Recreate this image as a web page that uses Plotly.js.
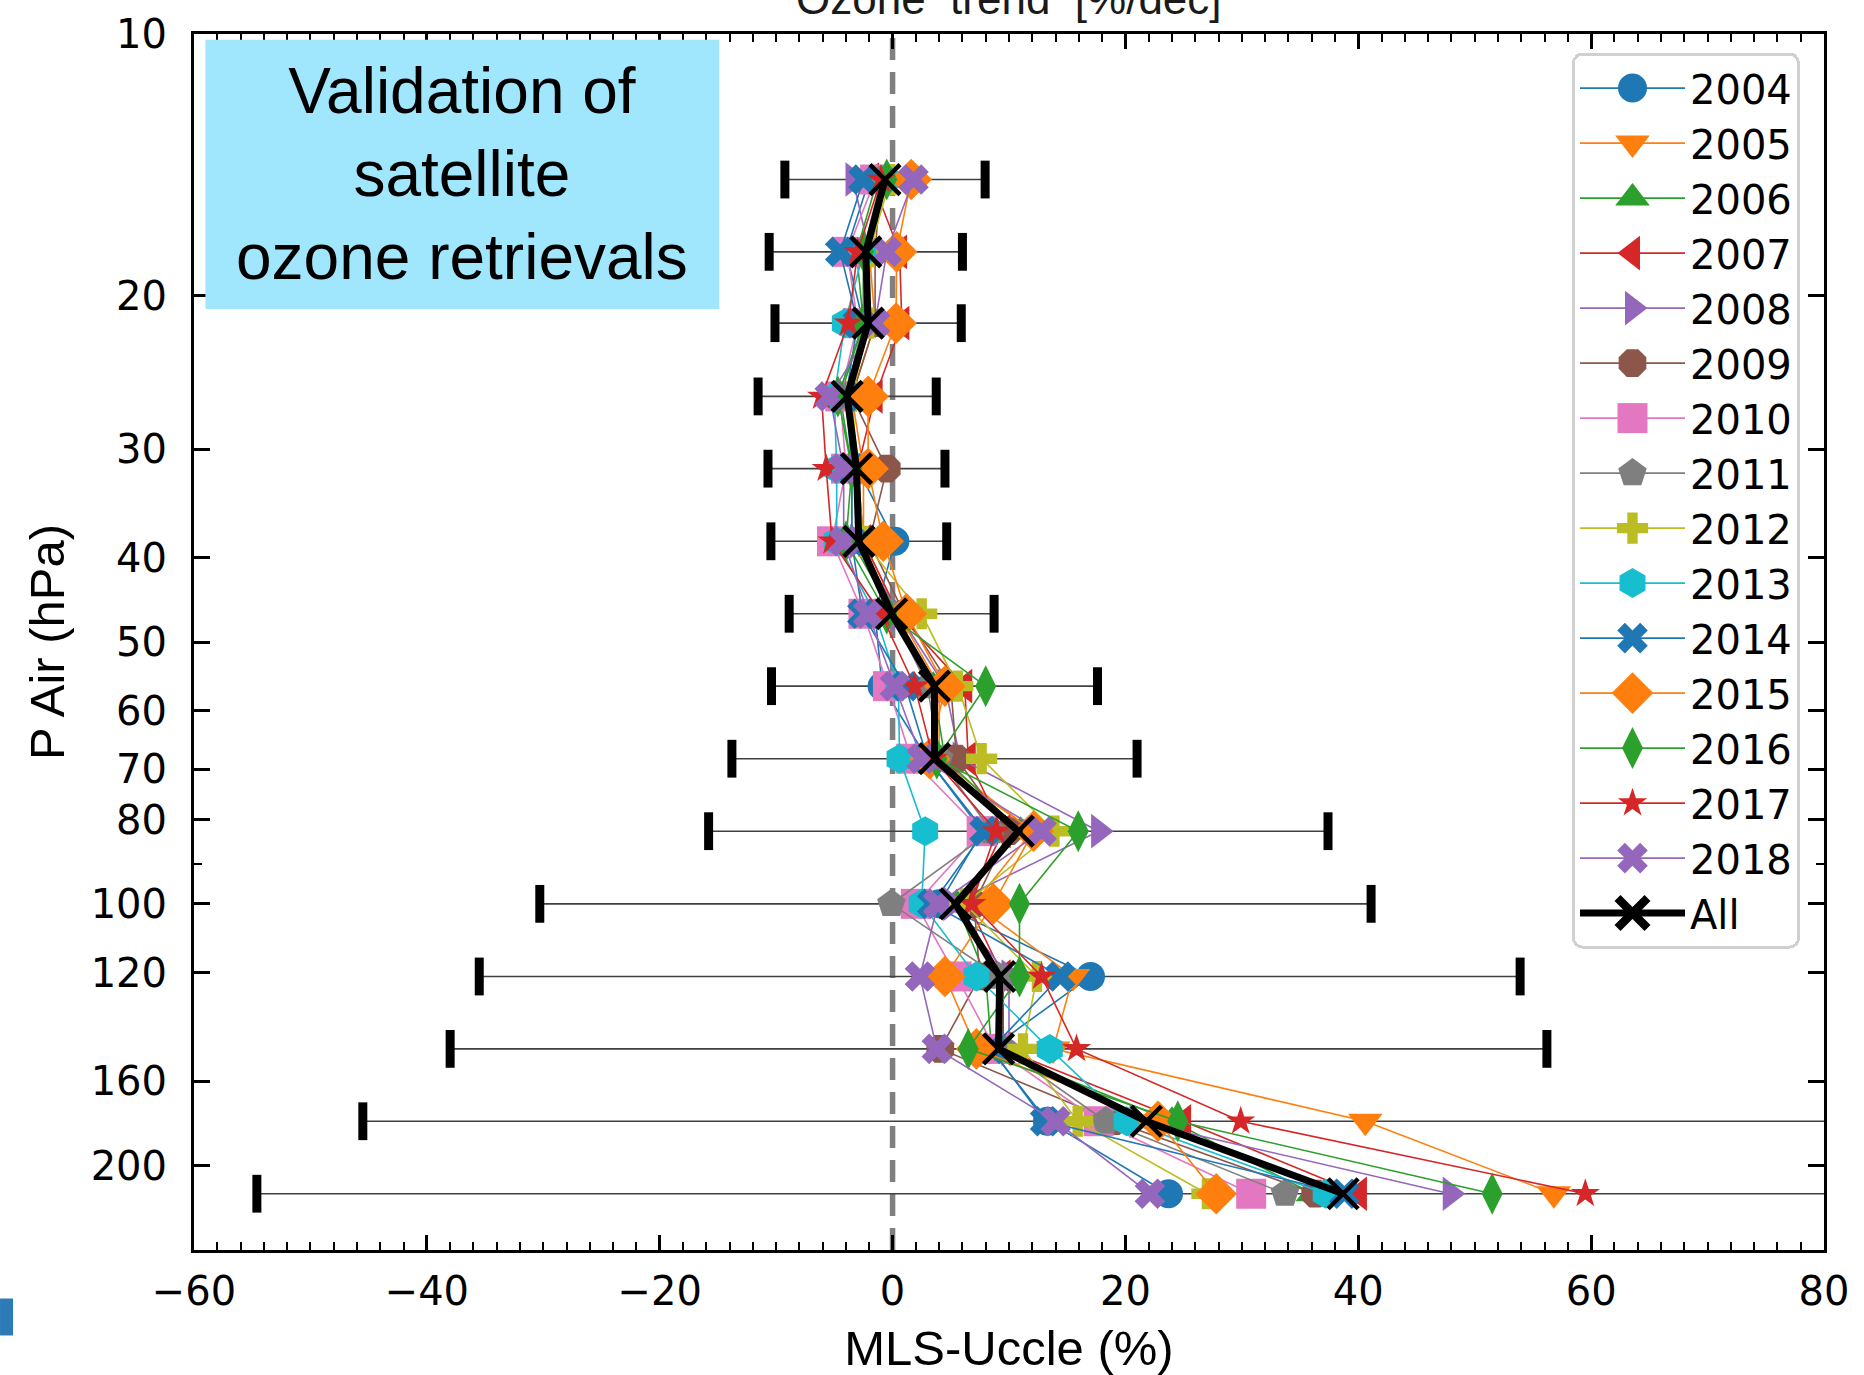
<!DOCTYPE html>
<html>
<head>
<meta charset="utf-8">
<script src="https://cdn.plot.ly/plotly-3.0.1.min.js"></script>
<style>
html, body { margin: 0; padding: 0; background: #ffffff; }
#chart { width: 1864px; height: 1375px; }
</style>
</head>
<body>
<div id="chart"></div>
<script>
// ---------------- DATA ----------------
const pressureLevels = [14.7, 17.8, 21.5, 26.1, 31.6, 38.3, 46.4, 56.2, 68.1, 82.5, 100, 121.2, 146.8, 177.8, 215.4];
const years = ['2004', '2005', '2006', '2007', '2008', '2009', '2010', '2011', '2012', '2013', '2014', '2015', '2016', '2017', '2018'];

const y2004 = [-2.0, -4.0, -2.5, -4.0, -3.0, 0.2, -1.5, -0.9, 3.0, 7.7, 4.0, 17.0, 8.4, 13.3, 23.7];
const y2005 = [-1.0, -2.0, -1.5, -3.5, -2.5, -2.5, 0.5, 4.0, 4.0, 12.0, 7.0, 15.5, 13.8, 40.6, 56.8];
const y2006 = [-1.3, -3.1, -2.5, -4.5, -3.5, -3.5, 0.0, 3.5, 4.5, 11.0, 5.5, 8.0, 8.5, 24.0, 36.1];
const y2007 = [-1.8, 0.6, 0.8, -1.5, -3.0, -2.5, 0.5, 6.2, 6.5, 9.5, 6.5, 9.5, 9.5, 25.0, 40.1];
const y2008 = [-3.4, -2.0, -2.0, -4.0, -3.0, -3.0, 0.5, 4.5, 5.8, 17.7, 5.0, 10.0, 10.0, 21.0, 47.9];
const y2009 = [-1.0, -1.5, -1.5, -3.5, -0.5, -2.0, 1.0, 5.0, 5.5, 10.0, 7.0, 7.5, 4.1, 19.0, 36.3];
const y2010 = [-1.5, -3.9, -3.0, -4.5, -4.0, -5.2, -2.5, -0.4, 1.6, 7.65, 2.0, 5.5, 8.8, 17.7, 30.8];
const y2011 = [-1.0, -2.5, -2.5, -4.0, -3.0, -3.0, 0.0, 3.0, 4.0, 8.5, -0.1, 9.1, 9.5, 18.3, 33.7];
const y2012 = [-0.2, -2.0, -2.0, -3.5, -3.0, -2.5, 2.5, 5.6, 7.65, 13.9, 6.2, 12.4, 11.2, 15.9, 27.0];
const y2013 = [-0.5, -2.5, -4.1, -5.0, -4.8, -4.8, -1.5, 0.5, 0.6, 2.8, 2.5, 7.2, 13.5, 20.1, 37.2];
const y2014 = [-2.5, -4.5, -3.0, -4.0, -3.5, -3.5, -2.6, 1.1, 3.0, 7.9, 3.4, 14.4, 8.5, 13.1, 38.8];
const y2015 = [1.6, 0.35, 0.3, -2.1, -2.1, -0.8, 1.2, 4.5, 3.2, 12.1, 8.65, 4.5, 7.2, 22.8, 27.8];
const y2016 = [-0.5, -2.5, -2.5, -4.7, -3.5, -4.0, -0.5, 8.0, 3.8, 15.95, 10.9, 10.9, 6.5, 24.5, 51.5];
const y2017 = [-1.0, -3.0, -3.8, -6.1, -5.7, -5.2, -1.0, 1.9, 3.5, 8.9, 6.8, 12.8, 15.8, 29.9, 59.5];
const y2018 = [1.8, -0.5, -1.5, -5.4, -4.2, -4.2, -2.1, 0.2, 2.5, 12.8, 3.9, 2.35, 3.8, 14.0, 22.1];

const allMean = [-0.65, -2.3, -2.1, -3.9, -3.1, -2.9, -0.08, 3.6, 3.6, 10.8, 5.4, 9.2, 9.1, 21.8, 38.7];
const allErr  = [8.6, 8.3, 8.0, 7.65, 7.6, 7.55, 8.8, 14.0, 17.4, 26.6, 35.7, 44.7, 47.1, 67.3, 93.3];

const xTickVals = [-60, -40, -20, 0, 20, 40, 60, 80];
const yTickVals = [10, 20, 30, 40, 50, 60, 70, 80, 100, 120, 160, 200];
const yMinorTickVals = [90];

// ---------------- STYLES ----------------
const yearSeries = [y2004, y2005, y2006, y2007, y2008, y2009, y2010, y2011, y2012, y2013, y2014, y2015, y2016, y2017, y2018];
const yearColors = ['#1f77b4', '#ff7f0e', '#2ca02c', '#d62728', '#9467bd', '#8c564b', '#e377c2', '#7f7f7f',
                    '#bcbd22', '#17becf', '#1f77b4', '#ff7f0e', '#2ca02c', '#d62728', '#9467bd'];
const yearSymbols = ['circle', 'triangle-down', 'triangle-up', 'triangle-left', 'triangle-right', 'octagon', 'square',
                     'pentagon', 'cross', 'hexagon', 'x', 'diamond', 'diamond-tall', 'star', 'x'];
const yearSizes = [29, 30, 30, 30, 30, 30, 30, 30, 26, 30, 27, 32, 30, 22, 27];
const allMarkerSize = 30;

const tickFont = { family: 'DejaVu Sans, sans-serif', size: 40, color: '#000000' };
const labelFont = { family: 'Liberation Sans, Arial, sans-serif', size: 49, color: '#000000' };

// ---------------- TRACES ----------------
const traces = [];

// thin error bar lines of "All"
traces.push({
  type: 'scatter', mode: 'markers',
  x: allMean, y: pressureLevels,
  marker: { size: 1, color: 'rgba(0,0,0,0)' },
  error_x: { type: 'data', array: allErr, symmetric: true, color: '#404040', thickness: 1.6, width: 0 },
  showlegend: false, hoverinfo: 'skip'
});

// thick caps at error bar ends
const capX = allMean.map((m, i) => m - allErr[i]).concat(allMean.map((m, i) => m + allErr[i]));
const capY = pressureLevels.concat(pressureLevels);
traces.push({
  type: 'scatter', mode: 'markers',
  x: capX, y: capY,
  marker: { symbol: 'line-ns', size: 27, color: '#000000', line: { width: 9, color: '#000000' } },
  showlegend: false, hoverinfo: 'skip'
});

years.forEach((yr, i) => {
  traces.push({
    type: 'scatter', mode: 'lines+markers', name: yr,
    x: yearSeries[i], y: pressureLevels,
    line: { color: yearColors[i], width: 1.6 },
    marker: { symbol: yearSymbols[i], size: yearSizes[i], color: yearColors[i], line: { width: 0 } }
  });
});

traces.push({
  type: 'scatter', mode: 'lines+markers', name: 'All',
  x: allMean, y: pressureLevels,
  line: { color: '#000000', width: 7 },
  marker: { symbol: 'x-thin', size: allMarkerSize, color: '#000000', line: { width: 4.5, color: '#000000' } }
});

// ---------------- LAYOUT ----------------
const layout = {
  width: 1864, height: 1375,
  margin: { l: 194, r: 40, t: 34, b: 125, pad: 0 },
  paper_bgcolor: '#ffffff', plot_bgcolor: '#ffffff',
  showlegend: true,
  xaxis: {
    range: [-60, 80],
    tickmode: 'array', tickvals: xTickVals,
    ticks: 'inside', ticklen: 15, tickwidth: 3, tickcolor: '#000000',
    showline: true, linewidth: 3, linecolor: '#000000', mirror: 'allticks',
    showgrid: false, zeroline: false,
    tickfont: tickFont, ticklabelstandoff: 4,
    minor: { tickmode: 'linear', tick0: 0, dtick: 2, ticks: 'inside', ticklen: 8, tickwidth: 2, tickcolor: '#000000', showgrid: false },
    title: { text: 'MLS-Uccle (%)', font: labelFont, standoff: 30 }
  },
  yaxis: {
    type: 'log',
    range: [Math.log10(250), 1],
    tickmode: 'array', tickvals: yTickVals, ticktext: yTickVals.map(String),
    ticks: 'inside', ticklen: 16, tickwidth: 3, tickcolor: '#000000',
    showline: true, linewidth: 3, linecolor: '#000000', mirror: 'allticks',
    showgrid: false, zeroline: false,
    tickfont: tickFont, ticklabelstandoff: 16,
    minor: { tickmode: 'array', tickvals: yMinorTickVals, ticks: 'inside', ticklen: 8, tickwidth: 2, tickcolor: '#000000', showgrid: false },
    title: { text: 'P Air (hPa)', font: labelFont, standoff: 11 }
  },
  legend: {
    x: 0.8454, y: 0.9847, xanchor: 'left', yanchor: 'top',
    bgcolor: '#ffffff', bordercolor: '#d0d0d0', borderwidth: 3,
    font: { family: 'DejaVu Sans, sans-serif', size: 40, color: '#000000' },
    itemwidth: 105, tracegroupgap: 0
  },
  shapes: [
    { type: 'line', xref: 'x', yref: 'paper', x0: 0, x1: 0, y0: 0, y1: 1,
      line: { color: '#808080', width: 5.5, dash: '22px,12px' }, layer: 'below' },
    { type: 'rect', xref: 'paper', yref: 'paper', x0: 0.007, x1: 0.3223, y0: 0.7739, y1: 0.9953,
      fillcolor: '#a0e6fc', line: { width: 0 }, layer: 'above' },
    { type: 'rect', xref: 'paper', yref: 'paper', x0: -0.119, x1: -0.111, y0: -0.0703, y1: -0.0399,
      fillcolor: '#2c7bb6', line: { width: 0 }, layer: 'above' }
  ],
  annotations: [
    { xref: 'paper', yref: 'paper', x: 0.1647, y: 0.8846, xanchor: 'center', yanchor: 'middle',
      text: 'Validation of<br>satellite<br>ozone retrievals', showarrow: false, align: 'center',
      font: { family: 'Liberation Sans, Arial, sans-serif', size: 64, color: '#000000' } },
    { xref: 'paper', yref: 'paper', x: 0.5, y: 1, xanchor: 'center', yanchor: 'middle', yshift: 36,
      text: 'Ozone  trend  [%/dec]', showarrow: false,
      font: { family: 'Liberation Sans, Arial, sans-serif', size: 44, color: '#1a1a1a' } }
  ]
};

Plotly.newPlot('chart', traces, layout, { displayModeBar: false, staticPlot: true }).then(function () {
  // Plotly caps legend symbols at 16px; enlarge them to match the markers drawn in the plot.
  const legendSizes = yearSizes.concat([allMarkerSize]);
  const items = document.querySelectorAll('#chart .legend .traces');
  items.forEach(function (item, j) {
    const s = legendSizes[j];
    if (!s) return;
    const k = s / Math.min(s, 16);
    item.querySelectorAll('.legendpoints path.scatterpts').forEach(function (p) {
      const t = p.getAttribute('transform') || '';
      p.setAttribute('transform', t + ' scale(' + k.toFixed(3) + ')');
    });
  });
  // rounded legend frame
  const bg = document.querySelector('#chart .legend rect.bg');
  if (bg) { bg.setAttribute('rx', 9); bg.setAttribute('ry', 9); }
});
</script>
</body>
</html>
